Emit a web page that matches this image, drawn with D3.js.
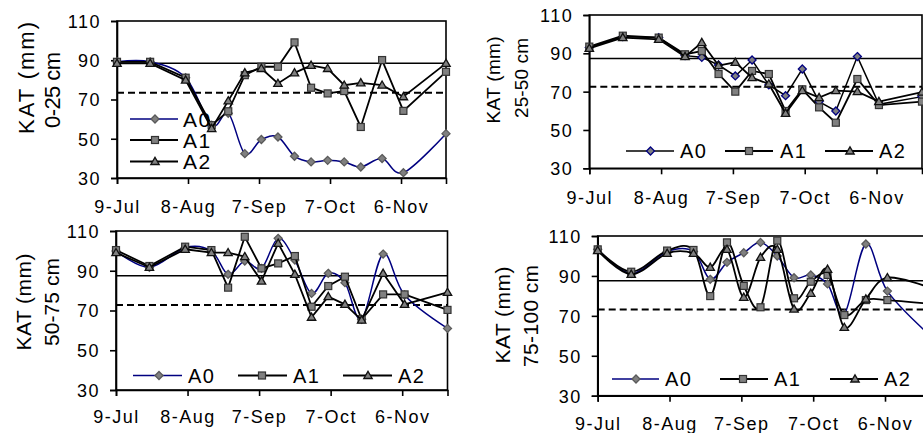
<!DOCTYPE html>
<html><head><meta charset="utf-8">
<script src="https://cdn.jsdelivr.net/npm/d3@7"></script>
<style>
html,body{margin:0;padding:0;background:#fff;}
svg{display:block;font-family:"Liberation Sans",Arial,sans-serif;}
</style></head><body>
<svg id="chart" width="923" height="433"></svg>
<script>
// ---------- DATA ----------
const dates = ["9-Jul","23-Jul","7-Aug","18-Aug","25-Aug","1-Sep","8-Sep","15-Sep","22-Sep","29-Sep","6-Oct","13-Oct","20-Oct","29-Oct","7-Nov","25-Nov"];
const tickLabels = ["9-Jul","8-Aug","7-Sep","7-Oct","6-Nov"];
const yTicks = [30, 50, 70, 90, 110];
const seriesNames = ["A0", "A1", "A2"];
const depths = ["0-25 cm", "25-50 cm", "50-75 cm", "75-100 cm"];
const yTitle = "KAT (mm)";

const a0_0_25 = [89.2, 89.2, 81.1, 56.9, 63.0, 42.4, 49.6, 50.9, 41.1, 38.2, 39.0, 38.2, 35.6, 39.9, 32.7, 52.6];
const a1_0_25 = [89.2, 89.2, 81.1, 56.9, 64.0, 82.4, 86.7, 86.7, 99.1, 76.0, 73.1, 74.3, 56.0, 90.1, 64.2, 84.1];
const a2_0_25 = [88.4, 88.4, 79.9, 55.2, 69.3, 83.6, 85.8, 78.2, 83.6, 87.4, 85.8, 77.3, 78.5, 77.3, 71.4, 88.4];

const a0_25_50 = [93.0, 98.7, 98.2, 88.8, 87.9, 83.9, 78.2, 86.5, 73.5, 67.9, 81.8, 64.8, 59.9, 88.3, 63.4, 67.4];
const a1_25_50 = [93.5, 99.2, 98.2, 89.5, 91.2, 79.2, 70.0, 80.8, 79.2, 59.9, 71.2, 61.8, 53.8, 76.6, 63.0, 64.8];
const a2_25_50 = [92.6, 98.2, 97.3, 88.3, 95.6, 83.6, 85.3, 77.3, 74.0, 58.7, 70.5, 66.9, 70.5, 70.0, 64.8, 69.7];

const a0_50_75 = [99.9, 91.7, 101.6, 99.9, 88.2, 94.9, 91.2, 106.3, 95.4, 78.6, 88.7, 84.0, 65.6, 98.4, 77.8, 61.0];
const a1_50_75 = [100.4, 92.4, 102.1, 100.4, 81.5, 107.1, 91.2, 93.7, 97.4, 71.9, 82.3, 87.0, 65.6, 78.1, 78.1, 70.3];
const a2_50_75 = [99.1, 91.7, 100.8, 99.1, 99.1, 97.1, 84.8, 103.8, 88.2, 66.6, 77.0, 73.1, 65.2, 88.7, 73.1, 79.1];

const a0_75_100 = [103.3, 91.3, 102.2, 102.2, 88.3, 96.8, 101.6, 106.8, 100.0, 89.1, 90.5, 86.0, 70.9, 106.0, 82.4, 60.0];
const a1_75_100 = [103.3, 92.1, 102.7, 103.0, 79.9, 106.8, 85.0, 74.3, 107.7, 78.8, 87.1, 90.5, 70.4, 77.9, 77.9, 76.0];
const a2_75_100 = [102.7, 90.8, 101.3, 101.3, 94.3, 103.3, 79.3, 99.3, 103.3, 73.4, 81.3, 93.3, 64.2, 78.4, 89.1, 84.0];

const upperLimit = [88.5, 87.3, 87.5, 87.6];
const lowerLimit = [73.5, 72.6, 72.8, 73.2];

// ---------- LAYOUT ----------
const parse = d3.timeParse("%d-%b-%Y");
const toDate = s => parse(s + "-2005");

const panels = [
  { values: [a0_0_25, a1_0_25, a2_0_25], box: {l:117, r:446, t:21, b:178}, smooth: [true,false,false],
    a0Line: "#000080", a0Stroke: "#5a5a5a",
    legend: {mode:"v", rows:[119,140,161.5], x0:130, x1:178, mx:155, tx:183, fs:21},
    title: {x1:26, y1:78, len1:112, x2:52, y2:90, len2:76, fs:22}, xlab: 213 },
  { values: [a0_25_50, a1_25_50, a2_25_50], box: {l:589.3, r:922, t:15, b:168.3}, smooth: [false,false,false],
    a0Line: "#000000", a0Stroke: "#000080",
    legend: {mode:"h", y:151, items:[[626,674,650.5,680],[725,773,749,780],[825,873,850,879]], fs:20},
    title: {x1:493, y1:80, len1:87, x2:521, y2:78, len2:80, fs:19}, xlab: 204 },
  { values: [a0_50_75, a1_50_75, a2_50_75], box: {l:116, r:447.5, t:231, b:390}, smooth: [true,false,false],
    a0Line: "#000080", a0Stroke: "#5a5a5a",
    legend: {mode:"h", y:375.5, items:[[133,182,159,188],[238,287,262,293],[343,392,368,398]], fs:20},
    title: {x1:24, y1:302, len1:97, x2:52, y2:302, len2:88, fs:21}, xlab: 423 },
  { values: [a0_75_100, a1_75_100, a2_75_100], box: {l:597.7, r:930.5, t:236, b:395.7}, smooth: [true,true,true],
    a0Line: "#000080", a0Stroke: "#5a5a5a",
    legend: {mode:"h", y:379, items:[[612,659,636,665],[720,768,743,774],[830,878,855,884]], fs:20},
    title: {x1:503, y1:315, len1:97, x2:531, y2:316, len2:102, fs:21}, xlab: 430 }
];

const svg = d3.select("#chart");
const markerFill = "#808080";

function drawMarker(g, type, x, y, strokeCol) {
  if (type === 0) {
    g.append("path").attr("d", `M${x},${y-4}L${x+4},${y}L${x},${y+4}L${x-4},${y}Z`)
      .attr("fill", markerFill).attr("stroke", strokeCol).attr("stroke-width", 1.3);
  } else if (type === 1) {
    g.append("rect").attr("x", x-3.5).attr("y", y-3.5).attr("width", 7).attr("height", 7)
      .attr("fill", markerFill).attr("stroke", "#333").attr("stroke-width", 1.2);
  } else {
    g.append("path").attr("d", `M${x},${y-4.2}L${x+4.2},${y+3}L${x-4.2},${y+3}Z`)
      .attr("fill", markerFill).attr("stroke", "#111").attr("stroke-width", 1.3);
  }
}

panels.forEach((p, pi) => {
  const g = svg.append("g");
  const x = d3.scaleTime().domain([toDate(dates[0]), toDate(dates[dates.length-1])]).range([p.box.l, p.box.r]);
  const y = d3.scaleLinear().domain([30, 110]).range([p.box.b, p.box.t]);

  // frame
  g.append("rect").attr("x", p.box.l).attr("y", p.box.t)
    .attr("width", p.box.r - p.box.l).attr("height", p.box.b - p.box.t)
    .attr("fill", "none").attr("stroke", "#000").attr("stroke-width", 1.6);

  // axes
  const xAxis = d3.axisBottom(x).tickValues(tickLabels.map(toDate)).tickSize(6).tickFormat(d3.timeFormat("%-d-%b"));
  const gx = g.append("g").attr("transform", `translate(0,${p.box.b})`).call(xAxis);
  gx.select(".domain").attr("stroke", "#000").attr("stroke-width", 1.6);
  gx.selectAll(".tick line").attr("stroke", "#000").attr("stroke-width", 1.6);
  gx.selectAll(".tick text").attr("y", null).attr("dy", null)
    .attr("transform", `translate(0,${p.xlab - p.box.b})`)
    .attr("font-size", 18).attr("letter-spacing", "1.5px")
    .attr("font-family", "Liberation Sans, Arial, sans-serif").attr("fill", "#000");

  const yAxis = d3.axisLeft(y).tickValues(yTicks).tickSize(6).tickFormat(d3.format("d"));
  const gy = g.append("g").attr("transform", `translate(${p.box.l},0)`).call(yAxis);
  gy.select(".domain").attr("stroke", "#000").attr("stroke-width", 1.6);
  gy.selectAll(".tick line").attr("stroke", "#000").attr("stroke-width", 1.6);
  gy.selectAll(".tick text").attr("x", -16).attr("dy", "0.36em")
    .attr("font-size", 18).attr("letter-spacing", "1.5px")
    .attr("font-family", "Liberation Sans, Arial, sans-serif").attr("fill", "#000");

  // reference lines
  g.append("line").attr("x1", p.box.l).attr("x2", p.box.r)
    .attr("y1", y(upperLimit[pi])).attr("y2", y(upperLimit[pi]))
    .attr("stroke", "#000").attr("stroke-width", 1.5);
  g.append("line").attr("x1", p.box.l).attr("x2", p.box.r)
    .attr("y1", y(lowerLimit[pi])).attr("y2", y(lowerLimit[pi]))
    .attr("stroke", "#000").attr("stroke-width", 2).attr("stroke-dasharray", "7,4");

  // series
  p.values.forEach((vals, si) => {
    const pts = vals.map((v, i) => [x(toDate(dates[i])), y(v)]);
    const line = d3.line().curve(p.smooth[si] ? d3.curveCardinal.tension(0) : d3.curveLinear);
    const col = si === 0 ? p.a0Line : "#000";
    g.append("path").attr("d", line(pts)).attr("fill", "none")
      .attr("stroke", col).attr("stroke-width", si === 0 ? 1.5 : 1.8);
    const mg = g.append("g");
    pts.forEach(pt => drawMarker(mg, si, pt[0], pt[1], p.a0Stroke));
  });

  // legend
  const L = p.legend;
  seriesNames.forEach((name, si) => {
    let x0, x1, mx, tx, ly;
    if (L.mode === "v") { x0 = L.x0; x1 = L.x1; mx = L.mx; tx = L.tx; ly = L.rows[si]; }
    else { [x0, x1, mx, tx] = L.items[si]; ly = L.y; }
    g.append("line").attr("x1", x0).attr("x2", x1).attr("y1", ly).attr("y2", ly)
      .attr("stroke", si === 0 ? p.a0Line : "#000").attr("stroke-width", si === 0 ? 1.5 : 1.8);
    drawMarker(g, si, mx, ly, p.a0Stroke);
    g.append("text").attr("x", tx).attr("y", ly).attr("dy", "0.36em")
      .attr("font-size", L.fs).attr("letter-spacing", "1.5px").text(name);
  });

  // y titles
  const T = p.title;
  g.append("text").attr("transform", `translate(${T.x1},${T.y1}) rotate(-90)`)
    .attr("text-anchor", "middle").attr("dy", "0.35em").attr("font-size", T.fs)
    .attr("textLength", T.len1).attr("lengthAdjust", "spacing").text(yTitle);
  g.append("text").attr("transform", `translate(${T.x2},${T.y2}) rotate(-90)`)
    .attr("text-anchor", "middle").attr("dy", "0.35em").attr("font-size", T.fs)
    .attr("textLength", T.len2).attr("lengthAdjust", "spacing").text(depths[pi]);
});
</script>
</body></html>
